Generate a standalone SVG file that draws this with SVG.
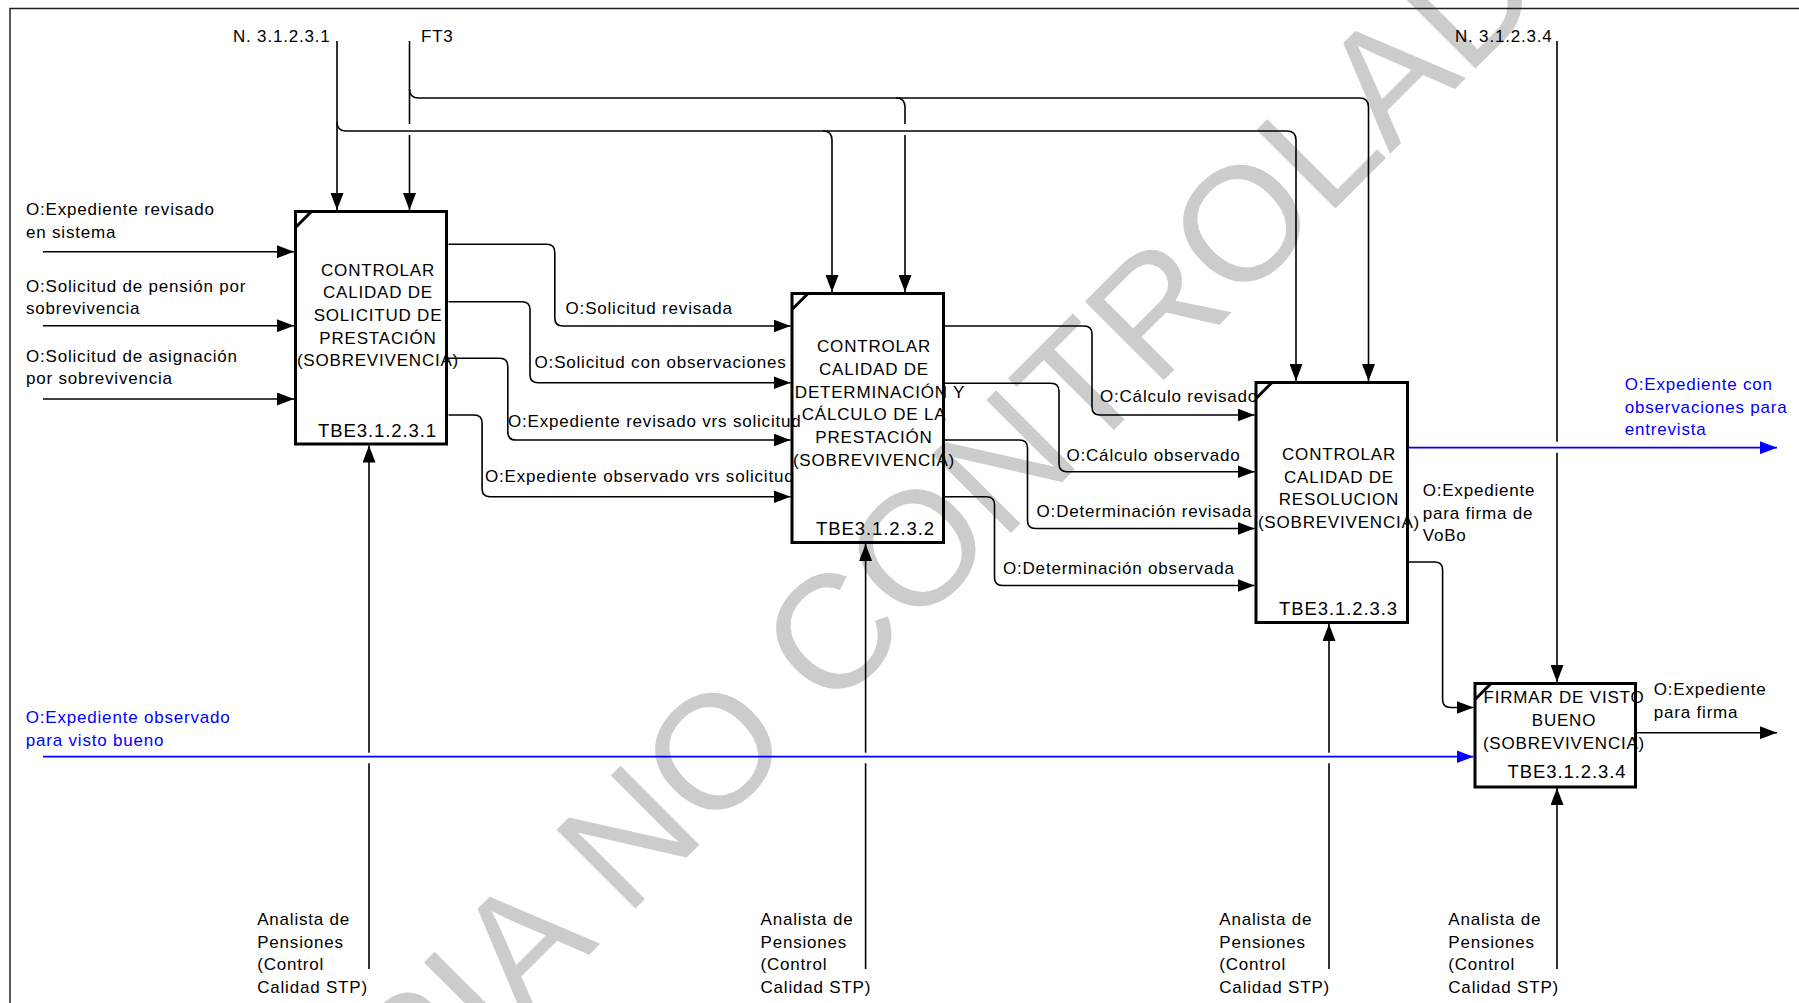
<svg xmlns="http://www.w3.org/2000/svg" width="1799" height="1003" viewBox="0 0 1799 1003">
  <style>
    text { font-family: "Liberation Sans", Arial, sans-serif; }
    .lbl { font-size: 17px; letter-spacing: 0.8px; fill: #000; }
    .blue { fill: #0000ff; }
    .ttl { font-size: 17px; letter-spacing: 0.8px; text-anchor: middle; fill: #000; }
    .tbe { font-size: 18.5px; letter-spacing: 0.9px; text-anchor: middle; fill: #000; }
    .box { fill: none; stroke: #000; stroke-width: 3; }
    .tick { stroke: #000; stroke-width: 3; fill: none; }
    .ln { fill: none; stroke: #000; stroke-width: 1.6; }
    .lnb { fill: none; stroke: #0000ff; stroke-width: 1.8; }
    .wm { font-size: 162px; fill: #cccccc; }
  </style>
  <defs>
    <marker id="ah" markerUnits="userSpaceOnUse" markerWidth="17" markerHeight="13" refX="17" refY="6.5" orient="auto">
      <path d="M0,0 L17,6.5 L0,13 Z" fill="#000"/>
    </marker>
    <marker id="ahb" markerUnits="userSpaceOnUse" markerWidth="17" markerHeight="13" refX="17" refY="6.5" orient="auto">
      <path d="M0,0 L17,6.5 L0,13 Z" fill="#0000ff"/>
    </marker>
  </defs>

  <rect width="1799" height="1003" fill="#fff"/>

  <!-- background stamp -->
  <text class="wm" x="244" y="1300" transform="rotate(-45 244 1300)">COPIA NO CONTROLADA</text>

  <!-- page frame -->
  <rect x="10" y="8.5" width="1850" height="1050" fill="none" stroke="#222" stroke-width="1.5"/>

  <g id="connectors">
    <!-- controls from N. 3.1.2.3.1 -->
    <path class="ln" d="M337,41 V210" marker-end="url(#ah)"/>
    <path class="ln" d="M337,122 Q337,131 346,131 H1287 Q1296,131 1296,140 V381" marker-end="url(#ah)"/>
    <path class="ln" d="M823,131 Q832,131 832,140 V292" marker-end="url(#ah)"/>
    <!-- controls from FT3 -->
    <path class="ln" d="M409.5,41 V124"/>
    <path class="ln" d="M409.5,135 V210" marker-end="url(#ah)"/>
    <path class="ln" d="M409.5,89 Q409.5,98 418.5,98 H1359.5 Q1368.5,98 1368.5,107 V381" marker-end="url(#ah)"/>
    <path class="ln" d="M896,98 Q905,98 905,107 V124"/>
    <path class="ln" d="M905,135 V292" marker-end="url(#ah)"/>
    <!-- control N. 3.1.2.3.4 -->
    <path class="ln" d="M1557,41 V441.7"/>
    <path class="ln" d="M1557,452.7 V682" marker-end="url(#ah)"/>

    <!-- inputs to node 1 -->
    <path class="ln" d="M43,251.7 H294" marker-end="url(#ah)"/>
    <path class="ln" d="M43,325.7 H294" marker-end="url(#ah)"/>
    <path class="ln" d="M43,399 H294" marker-end="url(#ah)"/>

    <!-- node 1 to node 2 -->
    <path class="ln" d="M448.5,244.3 H546.8 Q554.8,244.3 554.8,252.3 V318 Q554.8,326 562.8,326 H790.5" marker-end="url(#ah)"/>
    <path class="ln" d="M448.5,301.7 H522 Q530,301.7 530,309.7 V374.7 Q530,382.7 538,382.7 H790.5" marker-end="url(#ah)"/>
    <path class="ln" d="M448.5,358.3 H499.8 Q507.8,358.3 507.8,366.3 V432 Q507.8,440 515.8,440 H790.5" marker-end="url(#ah)"/>
    <path class="ln" d="M448.5,415 H474.1 Q482.1,415 482.1,423 V488.7 Q482.1,496.7 490.1,496.7 H790.5" marker-end="url(#ah)"/>

    <!-- node 2 to node 3 -->
    <path class="ln" d="M945,326 H1084 Q1092,326 1092,334 V407 Q1092,415 1100,415 H1254.5" marker-end="url(#ah)"/>
    <path class="ln" d="M945,383.3 H1051 Q1059,383.3 1059,391.3 V463.7 Q1059,471.7 1067,471.7 H1254.5" marker-end="url(#ah)"/>
    <path class="ln" d="M945,440 H1019.5 Q1027.5,440 1027.5,448 V520.5 Q1027.5,528.5 1035.5,528.5 H1254.5" marker-end="url(#ah)"/>
    <path class="ln" d="M945,496.7 H986.5 Q994.5,496.7 994.5,504.7 V577.5 Q994.5,585.5 1002.5,585.5 H1254.5" marker-end="url(#ah)"/>

    <!-- node 3 outputs -->
    <path class="lnb" d="M1409,447.7 H1777" marker-end="url(#ahb)"/>
    <path class="ln" d="M1409,562 H1434.6 Q1442.6,562 1442.6,570 V699.5 Q1442.6,707.5 1450.6,707.5 H1473.5" marker-end="url(#ah)"/>

    <!-- node 4 input and output -->
    <path class="lnb" d="M43,756.7 H1473.5" marker-end="url(#ahb)"/>
    <path class="ln" d="M1637,732.7 H1777" marker-end="url(#ah)"/>

    <!-- mechanisms -->
    <path class="ln" d="M369,969 V763.3"/>
    <path class="ln" d="M369,752.7 V445.5" marker-end="url(#ah)"/>
    <path class="ln" d="M865.6,969 V763.3"/>
    <path class="ln" d="M865.6,752.7 V544" marker-end="url(#ah)"/>
    <path class="ln" d="M1329,969 V763.3"/>
    <path class="ln" d="M1329,752.7 V624" marker-end="url(#ah)"/>
    <path class="ln" d="M1557,969 V788" marker-end="url(#ah)"/>

    <!-- arrow labels -->
    <text class="lbl" x="233" y="41.5">N. 3.1.2.3.1</text>
    <text class="lbl" x="421" y="41.5">FT3</text>
    <text class="lbl" x="1455" y="41.5">N. 3.1.2.3.4</text>

    <text class="lbl" x="26" y="215"><tspan x="26">O:Expediente revisado</tspan><tspan x="26" y="237.5">en sistema</tspan></text>
    <text class="lbl" x="26" y="291.5"><tspan x="26">O:Solicitud de pensión por</tspan><tspan x="26" y="314">sobrevivencia</tspan></text>
    <text class="lbl" x="26" y="361.5"><tspan x="26">O:Solicitud de asignación</tspan><tspan x="26" y="384">por sobrevivencia</tspan></text>

    <text class="lbl" x="565.6" y="314">O:Solicitud revisada</text>
    <text class="lbl" x="534.6" y="368">O:Solicitud con observaciones</text>
    <text class="lbl" x="508" y="426.7">O:Expediente revisado vrs solicitud</text>
    <text class="lbl" x="485" y="481.7">O:Expediente observado vrs solicitud</text>

    <text class="lbl" x="1100" y="402">O:Cálculo revisado</text>
    <text class="lbl" x="1066.5" y="461">O:Cálculo observado</text>
    <text class="lbl" x="1036.6" y="516.5">O:Determinación revisada</text>
    <text class="lbl" x="1003" y="574">O:Determinación observada</text>

    <text class="lbl blue" x="1624.8" y="390"><tspan x="1624.8">O:Expediente con</tspan><tspan x="1624.8" y="412.7">observaciones para</tspan><tspan x="1624.8" y="435.4">entrevista</tspan></text>
    <text class="lbl" x="1422.7" y="496"><tspan x="1422.7">O:Expediente</tspan><tspan x="1422.7" y="518.7">para firma de</tspan><tspan x="1422.7" y="541.4">VoBo</tspan></text>
    <text class="lbl" x="1653.8" y="695"><tspan x="1653.8">O:Expediente</tspan><tspan x="1653.8" y="718">para firma</tspan></text>
    <text class="lbl blue" x="25.8" y="723.3"><tspan x="25.8">O:Expediente observado</tspan><tspan x="25.8" y="746.3">para visto bueno</tspan></text>

    <text class="lbl" x="257.2" y="925"><tspan x="257.2">Analista de</tspan><tspan x="257.2" y="947.7">Pensiones</tspan><tspan x="257.2" y="970.4">(Control</tspan><tspan x="257.2" y="993.1">Calidad STP)</tspan></text>
    <text class="lbl" x="760.5" y="925"><tspan x="760.5">Analista de</tspan><tspan x="760.5" y="947.7">Pensiones</tspan><tspan x="760.5" y="970.4">(Control</tspan><tspan x="760.5" y="993.1">Calidad STP)</tspan></text>
    <text class="lbl" x="1219.3" y="925"><tspan x="1219.3">Analista de</tspan><tspan x="1219.3" y="947.7">Pensiones</tspan><tspan x="1219.3" y="970.4">(Control</tspan><tspan x="1219.3" y="993.1">Calidad STP)</tspan></text>
    <text class="lbl" x="1448.3" y="925"><tspan x="1448.3">Analista de</tspan><tspan x="1448.3" y="947.7">Pensiones</tspan><tspan x="1448.3" y="970.4">(Control</tspan><tspan x="1448.3" y="993.1">Calidad STP)</tspan></text>
  </g>

  <g id="node-TBE3.1.2.3.1">
    <rect class="box" x="295.5" y="211.5" width="151" height="232.5"/>
    <path class="tick" d="M295.5,227.5 L311.5,211.5"/>
    <text class="ttl" x="378" y="275.7"><tspan x="378">CONTROLAR</tspan><tspan x="378" y="298.3">CALIDAD DE</tspan><tspan x="378" y="320.9">SOLICITUD DE</tspan><tspan x="378" y="343.5">PRESTACIÓN</tspan><tspan x="378" y="366.1">(SOBREVIVENCIA)</tspan></text>
    <text class="tbe" x="377.5" y="436.7">TBE3.1.2.3.1</text>
  </g>

  <g id="node-TBE3.1.2.3.2">
    <rect class="box" x="792" y="293.5" width="151.5" height="249"/>
    <path class="tick" d="M792,309.5 L808,293.5"/>
    <text class="ttl" x="874" y="352.3"><tspan x="874">CONTROLAR</tspan><tspan x="874" y="375">CALIDAD DE</tspan><tspan x="880" y="397.7">DETERMINACIÓN Y</tspan><tspan x="874" y="420.4">CÁLCULO DE LA</tspan><tspan x="874" y="443.1">PRESTACIÓN</tspan><tspan x="874" y="465.8">(SOBREVIVENCIA)</tspan></text>
    <text class="tbe" x="875.5" y="535">TBE3.1.2.3.2</text>
  </g>

  <g id="node-TBE3.1.2.3.3">
    <rect class="box" x="1256" y="382.5" width="151.5" height="240"/>
    <path class="tick" d="M1256,398.5 L1272,382.5"/>
    <text class="ttl" x="1339" y="460"><tspan x="1339">CONTROLAR</tspan><tspan x="1339" y="482.7">CALIDAD DE</tspan><tspan x="1339" y="505.4">RESOLUCION</tspan><tspan x="1339" y="528.1">(SOBREVIVENCIA)</tspan></text>
    <text class="tbe" x="1338.5" y="615">TBE3.1.2.3.3</text>
  </g>

  <g id="node-TBE3.1.2.3.4">
    <rect class="box" x="1475" y="683.5" width="160.5" height="103.5"/>
    <path class="tick" d="M1475,699.5 L1491,683.5"/>
    <text class="ttl" x="1564" y="703.3"><tspan x="1564">FIRMAR DE VISTO</tspan><tspan x="1564" y="726">BUENO</tspan><tspan x="1564" y="748.7">(SOBREVIVENCIA)</tspan></text>
    <text class="tbe" x="1567" y="778.3">TBE3.1.2.3.4</text>
  </g>
</svg>
